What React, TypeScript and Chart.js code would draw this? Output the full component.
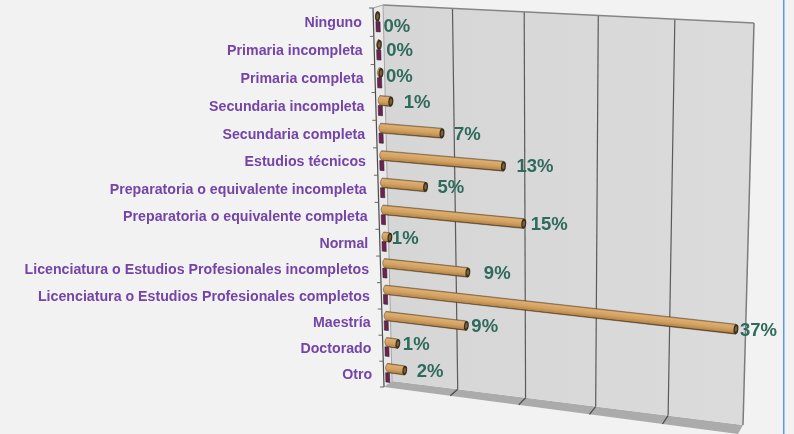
import React, { useEffect, useRef } from "react";
import { Chart, registerables } from "chart.js";

Chart.register(...registerables);

const categories = [
  "Ninguno",
  "Primaria incompleta",
  "Primaria completa",
  "Secundaria incompleta",
  "Secundaria completa",
  "Estudios técnicos",
  "Preparatoria o equivalente incompleta",
  "Preparatoria o equivalente completa",
  "Normal",
  "Licenciatura o Estudios Profesionales incompletos",
  "Licenciatura o Estudios Profesionales completos",
  "Maestría",
  "Doctorado",
  "Otro",
];
const mainValues = [0.2, 0.3, 0.4, 1.4, 6.9, 13.4, 5, 15.49, 0.9, 9.45, 36.95, 9.2, 1.49, 2.2];
const stubValues = [0.45, 0.45, 0.45, 0.45, 0.45, 0.45, 0.45, 0.45, 0.45, 0.45, 0.45, 0.45, 0.45, 0.45];
const labelGapX = [6, 7, 5, 13, 12, 13, 12, 7, 2, 16, 4, 5, 5, 12];
const labelNudgeY = [9, 5, 3, 0, 1, 0, 0, 0, 0, 0, 1, 0, 0, 0];

type Pt = { x: number; y: number };
const FRONT = { tl: { x: 373, y: 8 }, tr: { x: 747, y: 31 }, bl: { x: 384, y: 387 }, br: { x: 738, y: 434 } };
const BACK = { tl: { x: 383, y: 5 }, tr: { x: 754, y: 23 }, bl: { x: 392, y: 381 }, br: { x: 743, y: 425 } };
const KU = 0.085;
const KV = -0.05;
const BAR_Z = 0.25;

const warp = (t: number, k: number) => t / (1 + k * (1 - t));
const lerp = (a: number, b: number, t: number) => a + (b - a) * t;
function bilinear(q: typeof FRONT, u: number, v: number): Pt {
  const tx = lerp(q.tl.x, q.tr.x, u), ty = lerp(q.tl.y, q.tr.y, u);
  const bx = lerp(q.bl.x, q.br.x, u), by = lerp(q.bl.y, q.br.y, u);
  return { x: lerp(tx, bx, v), y: lerp(ty, by, v) };
}
function project(u: number, v: number, z: number): Pt {
  const U = warp(u, KU), V = warp(v, KV);
  const f = bilinear(FRONT, U, V), b = bilinear(BACK, U, V);
  return { x: lerp(f.x, b.x, z), y: lerp(f.y, b.y, z) };
}

function poly(ctx: CanvasRenderingContext2D, pts: Pt[]) {
  ctx.beginPath();
  pts.forEach((p, i) => (i ? ctx.lineTo(p.x, p.y) : ctx.moveTo(p.x, p.y)));
  ctx.closePath();
}
function seg(ctx: CanvasRenderingContext2D, a: Pt, b: Pt, color: string, w: number) {
  ctx.strokeStyle = color;
  ctx.lineWidth = w;
  ctx.beginPath();
  ctx.moveTo(a.x, a.y);
  ctx.lineTo(b.x, b.y);
  ctx.stroke();
}

const perspectivePlugin = {
  id: "perspective",
  beforeDraw(chart: any) {
    const { ctx, width, height } = chart;
    ctx.save();
    ctx.fillStyle = "#f2f2f2";
    ctx.fillRect(0, 0, width, height);
    ctx.fillStyle = "#5f97ea";
    ctx.fillRect(783, 0, 1.5, height);
    ctx.restore();
  },
  beforeDatasetsDraw(chart: any) {
    const { ctx, chartArea: a, scales } = chart;
    const xs = scales.x;
    const ys = scales.y;
    const uOf = (px: number) => (px - a.left) / (a.right - a.left);
    ctx.save();
    poly(ctx, [project(0, 0, 0), project(0, 0, 1), project(0, 1, 1), project(0, 1, 0)]);
    ctx.fillStyle = "#e9e9e9";
    ctx.fill();
    poly(ctx, [project(0, 1, 0), project(0, 1, 1), project(1, 1, 1), project(1, 1, 0)]);
    ctx.fillStyle = "#ababab";
    ctx.fill();
    poly(ctx, [project(0, 0, 1), project(1, 0, 1), project(1, 1, 1), project(0, 1, 1)]);
    const g = ctx.createLinearGradient(383, 0, 754, 0);
    g.addColorStop(0, "#d6d6d6");
    g.addColorStop(1, "#dbdbdb");
    ctx.fillStyle = g;
    ctx.fill();
    xs.ticks.forEach((t: any) => {
      const u = uOf(xs.getPixelForValue(t.value));
      if (u > 0.001 && u < 0.999) {
        seg(ctx, project(u, 0, 1), project(u, 1, 1), "#5a5a5a", 1.2);
        seg(ctx, project(u, 1, 1), project(u, 1, 0), "#4a4a4a", 1.2);
      }
    });
    seg(ctx, project(0, 0, 1), project(1, 0, 1), "#858585", 1.5);
    seg(ctx, project(1, 0, 1), project(1, 1, 1), "#7c7c7c", 1.5);
    seg(ctx, project(0, 0, 1), project(0, 1, 1), "#a5a5a5", 1);
    seg(ctx, project(0, 0, 0), project(0, 0, 1), "#a0a0a0", 1);
    seg(ctx, project(0, 0, 0), project(0, 1, 0), "#4c4c4c", 1.2);
    const n = categories.length;
    for (let i = 0; i <= n; i++) {
      const p = project(0, i / n, 0);
      seg(ctx, { x: p.x - 4, y: p.y }, p, "#6a6a6a", 1);
    }
    ctx.font = 'bold 14.2px "Liberation Sans", Arial, sans-serif';
    ctx.fillStyle = "#7444a8";
    ctx.textAlign = "right";
    ctx.textBaseline = "middle";
    categories.forEach((c, i) => {
      const v = (ys.getPixelForValue(i) - a.top) / (a.bottom - a.top);
      const p = project(0, v, 0);
      ctx.fillText(c, p.x - 11.5, p.y + 1);
    });
    ctx.restore();
  },
  beforeDatasetDraw() {
    return false;
  },
  afterDatasetsDraw(chart: any) {
    const { ctx, chartArea: a } = chart;
    const uOf = (px: number) => (px - a.left) / (a.right - a.left);
    const vOf = (py: number) => (py - a.top) / (a.bottom - a.top);
    const main = chart.getDatasetMeta(0).data;
    const stub = chart.getDatasetMeta(1).data;
    ctx.save();
    categories.forEach((_, i) => {
      const s = stub[i];
      const u0s = uOf(s.base), u1s = uOf(s.x);
      const v0s = vOf(s.y - s.height / 2), v1s = vOf(s.y + s.height / 2);
      poly(ctx, [project(u0s, v0s, BAR_Z), project(u1s, v0s, BAR_Z), project(u1s, v1s, BAR_Z), project(u0s, v1s, BAR_Z)]);
      ctx.fillStyle = "#6b2450";
      ctx.fill();
      ctx.strokeStyle = "#3a1a30";
      ctx.lineWidth = 0.6;
      ctx.stroke();

      const m = main[i];
      const u0 = uOf(m.base), u1 = uOf(m.x);
      const v0 = vOf(m.y - m.height / 2), v1 = vOf(m.y + m.height / 2);
      const tl = project(u0, v0, BAR_Z), tr = project(u1, v0, BAR_Z);
      const bl = project(u0, v1, BAR_Z), br = project(u1, v1, BAR_Z);
      const cs = { x: (tl.x + bl.x) / 2, y: (tl.y + bl.y) / 2 };
      const ce = { x: (tr.x + br.x) / 2, y: (tr.y + br.y) / 2 };
      const dx = ce.x - cs.x, dy = ce.y - cs.y;
      const len = Math.hypot(dx, dy) || 1;
      const nx = -dy / len, ny = dx / len;
      const hw = (Math.hypot(br.x - tr.x, br.y - tr.y) + Math.hypot(bl.x - tl.x, bl.y - tl.y)) / 4;
      const grad = ctx.createLinearGradient(ce.x - nx * hw, ce.y - ny * hw, ce.x + nx * hw, ce.y + ny * hw);
      grad.addColorStop(0, "#a07c48");
      grad.addColorStop(0.15, "#deae70");
      grad.addColorStop(0.55, "#d2a060");
      grad.addColorStop(0.85, "#b88a4c");
      grad.addColorStop(1, "#4a381f");
      ctx.beginPath();
      ctx.moveTo(tl.x + 2, tl.y);
      ctx.lineTo(tr.x, tr.y);
      ctx.lineTo(br.x, br.y);
      ctx.lineTo(bl.x + 2, bl.y);
      ctx.quadraticCurveTo(cs.x - 2, cs.y, tl.x + 2, tl.y);
      ctx.closePath();
      ctx.fillStyle = grad;
      ctx.fill();
      ctx.strokeStyle = "rgba(60,45,25,0.7)";
      ctx.lineWidth = 0.6;
      ctx.stroke();
      ctx.beginPath();
      ctx.ellipse(ce.x, ce.y, hw * 0.5, hw, Math.atan2(dy, dx), 0, Math.PI * 2);
      ctx.fillStyle = "#3b2f1e";
      ctx.fill();
      ctx.beginPath();
      ctx.ellipse(ce.x, ce.y, hw * 0.25, hw * 0.6, Math.atan2(dy, dx), 0, Math.PI * 2);
      ctx.fillStyle = "#7c6238";
      ctx.fill();

      ctx.font = 'bold 18.5px "Liberation Sans", Arial, sans-serif';
      ctx.fillStyle = "#2f6b5c";
      ctx.textAlign = "left";
      ctx.textBaseline = "middle";
      ctx.fillText(`${Math.round(mainValues[i])}%`, ce.x + labelGapX[i], ce.y + labelNudgeY[i] + 1);
    });
    ctx.restore();
  },
};

export default function App() {
  const ref = useRef<HTMLCanvasElement>(null);
  useEffect(() => {
    document.body.style.margin = "0";
    const chart = new Chart(ref.current!, {
      type: "bar",
      data: {
        labels: categories,
        datasets: [
          { label: "Principal", data: mainValues, backgroundColor: "#cf9c5c", categoryPercentage: 0.72, barPercentage: 1 },
          { label: "Base", data: stubValues, backgroundColor: "#6b2450", categoryPercentage: 0.72, barPercentage: 1 },
        ],
      },
      options: {
        indexAxis: "y",
        responsive: false,
        animation: false,
        layout: { padding: { left: 100, right: 100, top: 20, bottom: 20 } },
        plugins: { legend: { display: false }, tooltip: { enabled: false } },
        scales: {
          x: { min: 0, max: 37.5, ticks: { stepSize: 7.5, display: false }, grid: { display: false }, border: { display: false } },
          y: { ticks: { display: false }, grid: { display: false }, border: { display: false } },
        },
      },
      plugins: [perspectivePlugin],
    } as any);
    return () => chart.destroy();
  }, []);
  return <canvas ref={ref} width={794} height={434} style={{ display: "block", filter: "blur(0.4px)" }} />;
}
